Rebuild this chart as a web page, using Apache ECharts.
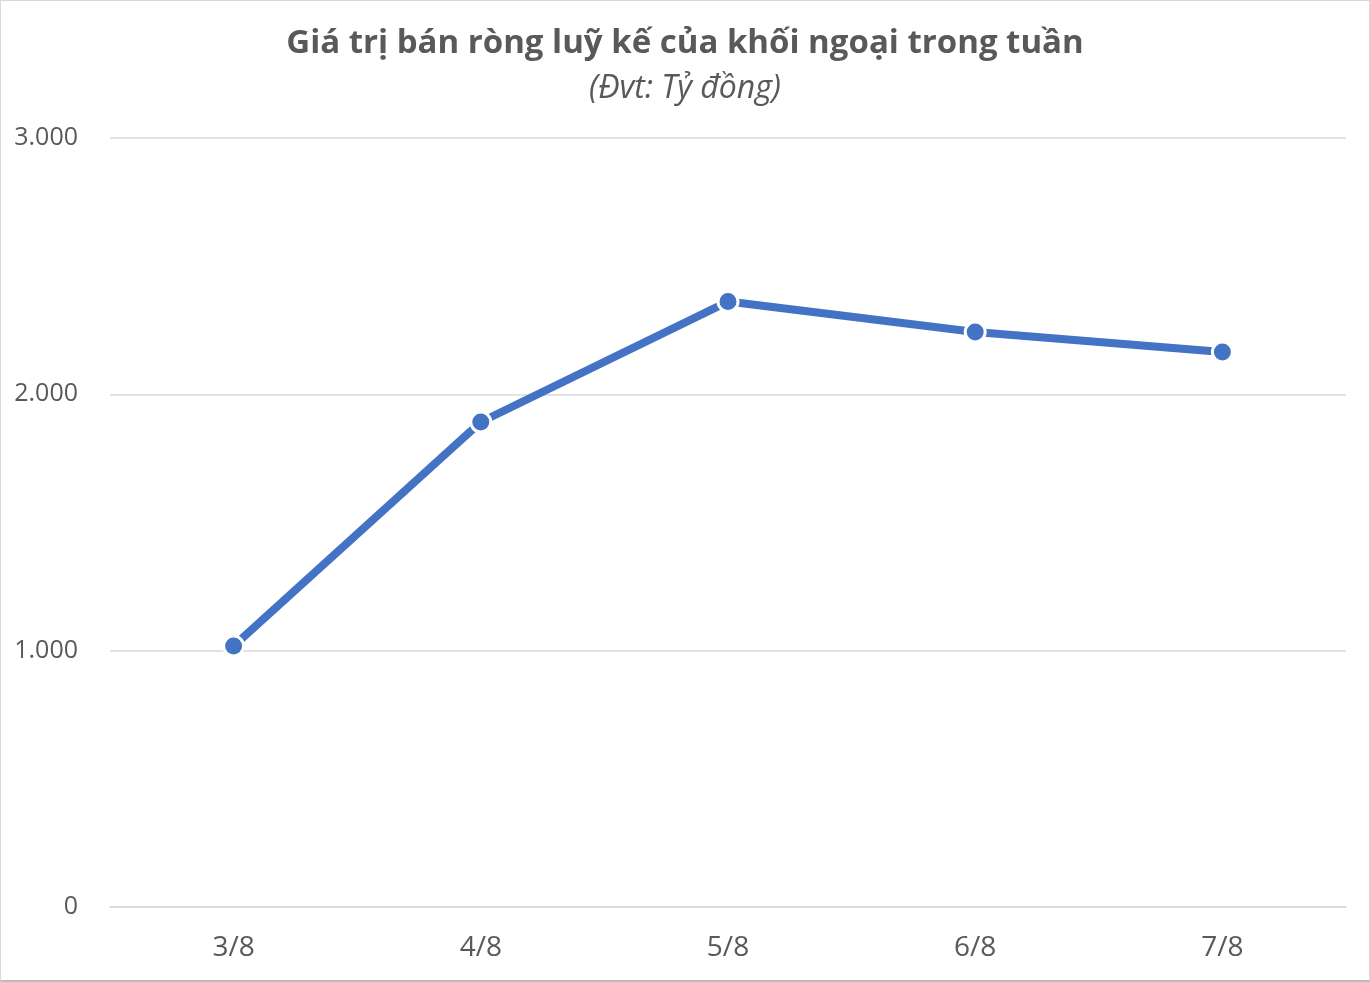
<!DOCTYPE html>
<html><head><meta charset="utf-8">
<script src="https://cdn.jsdelivr.net/npm/echarts@6/dist/echarts.min.js"></script>
<style>
html,body{margin:0;padding:0;background:#fff;}
#c{width:1370px;height:982px;box-sizing:border-box;border:1px solid #d9d9d9;border-bottom:2px solid #bdbdbd;}
</style></head>
<body><div id="c"></div>
<script>
const categories = ['3/8','4/8','5/8','6/8','7/8'];
const netSellValues = [1018, 1892, 2362, 2243, 2165];
const titleText = 'Giá trị bán ròng luỹ kế của khối ngoại trong tuần';
const subtitleText = '(Đvt: Tỷ đồng)';

const chart = echarts.init(document.getElementById('c'));
chart.setOption({
  animation:false,
  title:{
    text:titleText, subtext:subtitleText, left:'center', top:21, itemGap:13,
    textStyle:{fontFamily:'Open Sans', fontWeight:'bold', fontSize:33, color:'#595959'},
    subtextStyle:{fontFamily:'Open Sans', fontStyle:'italic', fontSize:32, color:'#595959'}
  },
  grid:{left:109, right:23, top:137, bottom:73},
  xAxis:{
    type:'category', data:categories, boundaryGap:true,
    axisLine:{show:true, lineStyle:{color:'#d9d9d9', width:1.5}},
    axisTick:{show:false},
    axisLabel:{fontFamily:'Open Sans', fontSize:28, color:'#595959', margin:27}
  },
  yAxis:{
    type:'value', min:0, max:3000, interval:1000,
    axisLine:{show:false}, axisTick:{show:false},
    splitLine:{lineStyle:{color:'#d9d9d9', width:1.5}},
    axisLabel:{fontFamily:'Open Sans', fontSize:25, color:'#595959', margin:32,
      formatter:v=>v.toLocaleString('de-DE')}
  },
  series:[{
    type:'line', data:netSellValues,
    lineStyle:{color:'#4472C4', width:8},
    symbol:'circle', symbolSize:20,
    itemStyle:{color:'#4472C4', borderColor:'#fff', borderWidth:3}
  }]
});
</script></body></html>
